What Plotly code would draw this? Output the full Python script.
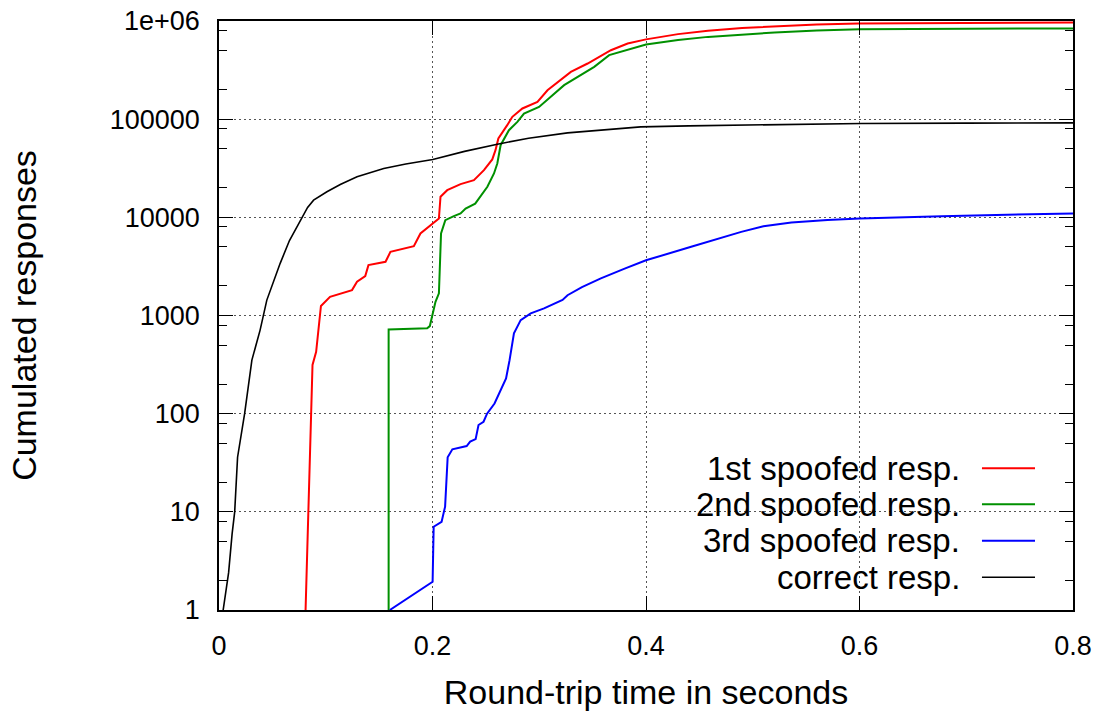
import plotly.graph_objects as go

# ---------------- data ----------------
series_names = ["1st spoofed resp.", "2nd spoofed resp.", "3rd spoofed resp.", "correct resp."]

first_x = [0.0811, 0.0835, 0.0861, 0.0876, 0.091, 0.0955, 0.104, 0.1246, 0.1293, 0.137, 0.140,
           0.156, 0.1606, 0.1825, 0.1887, 0.1966, 0.206, 0.2075, 0.2138, 0.2263, 0.2388, 0.2482,
           0.256, 0.259, 0.2617, 0.270, 0.2748, 0.2842, 0.2983, 0.3077, 0.3296, 0.3453, 0.3671,
           0.3828, 0.400, 0.430, 0.458, 0.490, 0.5205, 0.560, 0.599, 0.70, 0.80]
first_y = [1, 10, 100, 313, 427, 1250, 1550, 1815, 2205, 2520, 3260,
           3525, 4450, 5090, 6850, 8000, 9740, 16200, 18900, 21800, 23900, 30200,
           38900, 48300, 63500, 86900, 105600, 128500, 150000, 197000, 303000, 369000, 504000,
           590000, 650000, 735000, 795000, 850000, 885000, 920000, 942000, 958000, 966000]

second_x = [0.1589, 0.1589, 0.195, 0.1975, 0.2028, 0.206, 0.208, 0.212, 0.220, 0.2263, 0.231,
            0.240, 0.2514, 0.2576, 0.2607, 0.2638, 0.2716, 0.2795, 0.2857, 0.2998, 0.3108,
            0.3233, 0.3515, 0.3655, 0.400, 0.430, 0.458, 0.490, 0.5205, 0.560, 0.6003, 0.70, 0.80]
second_y = [1, 722, 740, 780, 1380, 1680, 6860, 9360, 10300, 10960, 12300,
            13800, 20500, 28000, 35400, 54300, 77200, 93700, 114000, 133000, 169000,
            222000, 341000, 449000, 575000, 640000, 689000, 730000, 764000, 800000, 826000,
            835000, 839000]

third_x = [0.160, 0.2001, 0.2011, 0.2085, 0.2118, 0.2142, 0.2186, 0.232, 0.2353, 0.2404, 0.2431,
           0.2478, 0.2511, 0.2581, 0.2689, 0.2722, 0.2763, 0.2826, 0.292, 0.3045, 0.3218,
           0.3265, 0.340, 0.3577, 0.380, 0.400, 0.4423, 0.4892, 0.510, 0.5362, 0.570, 0.6003,
           0.677, 0.80]
third_y = [1, 1.94, 7.05, 7.9, 11.3, 36, 43.3, 46.8, 51.9, 55, 76.6,
           82.8, 100, 127, 229, 351, 658, 898, 1050, 1180, 1440,
           1610, 1950, 2390, 3000, 3650, 5010, 7110, 8100, 8870, 9400, 9750,
           10280, 10960]

correct_x = [0.0039, 0.009, 0.0123, 0.0147, 0.0174, 0.024, 0.0308, 0.0385, 0.0448, 0.0573,
             0.066, 0.0776, 0.083, 0.0886, 0.1011, 0.1136, 0.1293, 0.1543, 0.175, 0.2003, 0.230,
             0.2607, 0.290, 0.3265, 0.360, 0.395, 0.440, 0.489, 0.550, 0.602, 0.700, 0.802]
correct_y = [1, 2.4, 6.0, 10, 36, 100, 351, 710, 1435, 3400,
             5800, 9970, 12600, 14960, 18200, 21600, 25900, 31500, 35000, 38900, 47000,
             55600, 64000, 72500, 78000, 83400, 85500, 86900, 89000, 90400, 91200, 91700]

colors = ["#ff0000", "#009000", "#0000ff", "#000000"]
widths = [2, 2, 2, 1.6]

x_tickvals = [0, 0.2, 0.4, 0.6, 0.8]
x_ticktext = ["0", "0.2", "0.4", "0.6", "0.8"]
y_tickvals = [1, 10, 100, 1000, 10000, 100000, 1000000]
y_ticktext = ["1", "10", "100", "1000", "10000", "100000", "1e+06"]

x_title = "Round-trip time in seconds"
y_title = "Cumulated responses"

# ---------------- figure ----------------
FONT = "Liberation Sans, Arial, Helvetica, sans-serif"
fig = go.Figure()
all_x = [first_x, second_x, third_x, correct_x]
all_y = [first_y, second_y, third_y, correct_y]
for name, xs, ys, c, w in zip(series_names, all_x, all_y, colors, widths):
    fig.add_trace(go.Scatter(x=xs, y=ys, mode="lines", name=name,
                             line=dict(color=c, width=w), showlegend=False))

minor_vals = [m * 10 ** e for e in range(0, 6) for m in (2, 5, 8)]

grid_dash = "1.5px,3.5px"
grid_color = "#555555"
fig.update_layout(
    width=1108, height=717,
    margin=dict(l=219, r=35, t=21, b=107, autoexpand=False),
    paper_bgcolor="white", plot_bgcolor="white",
    font=dict(family=FONT, size=27, color="black"),
    xaxis=dict(range=[0, 0.8], tickmode="array", tickvals=x_tickvals, ticktext=x_ticktext,
               ticks="inside", ticklen=14, tickwidth=1.3, tickcolor="black",
               showline=True, linecolor="black", linewidth=1.5, mirror="ticks",
               showgrid=True, gridcolor=grid_color, gridwidth=1.2, griddash=grid_dash,
               zeroline=False, ticklabelstandoff=11, ticklabeloverflow="allow",
               title=dict(text=x_title, font=dict(size=34), standoff=20),
               automargin=False),
    yaxis=dict(type="log", range=[0, 6], tickmode="array", tickvals=y_tickvals, ticktext=y_ticktext,
               ticks="inside", ticklen=14, tickwidth=1.3, tickcolor="black",
               showline=True, linecolor="black", linewidth=1.5, mirror="ticks",
               showgrid=True, gridcolor=grid_color, gridwidth=1.2, griddash=grid_dash,
               zeroline=False, ticklabelstandoff=12, ticklabeloverflow="allow",
               minor=dict(tickmode="array", tickvals=minor_vals, ticks="inside", ticklen=8,
                          tickwidth=1.2, tickcolor="black", showgrid=False),
               title=dict(text=y_title, font=dict(size=34), standoff=63),
               automargin=False),
)

# opaque key box hiding the grid (gnuplot style)
fig.add_shape(type="rect", xref="paper", yref="paper", x0=0.4988, x1=1.0, y0=0.0, y1=0.2716,
              line=dict(width=0), fillcolor="white", layer="between")

# key: right-aligned text, sample line on the right
key_rows = [0.2406, 0.1795, 0.1177, 0.0555]
for name, c, w, ry in zip(series_names, colors, widths, key_rows):
    fig.add_annotation(xref="paper", yref="paper", x=0.870, y=ry, text=name, showarrow=False,
                       xanchor="right", yanchor="middle", font=dict(size=33, family=FONT, color="black"))
    fig.add_shape(type="line", xref="paper", yref="paper", x0=0.8934, x1=0.9555, y0=ry, y1=ry,
                  line=dict(color=c, width=w), layer="above")

# remove the page's default body margin so the figure fills the window exactly
fig.write_html("out.html",
               config={"displayModeBar": False},
               post_script="document.body.style.margin='0';document.body.style.overflow='hidden';")
